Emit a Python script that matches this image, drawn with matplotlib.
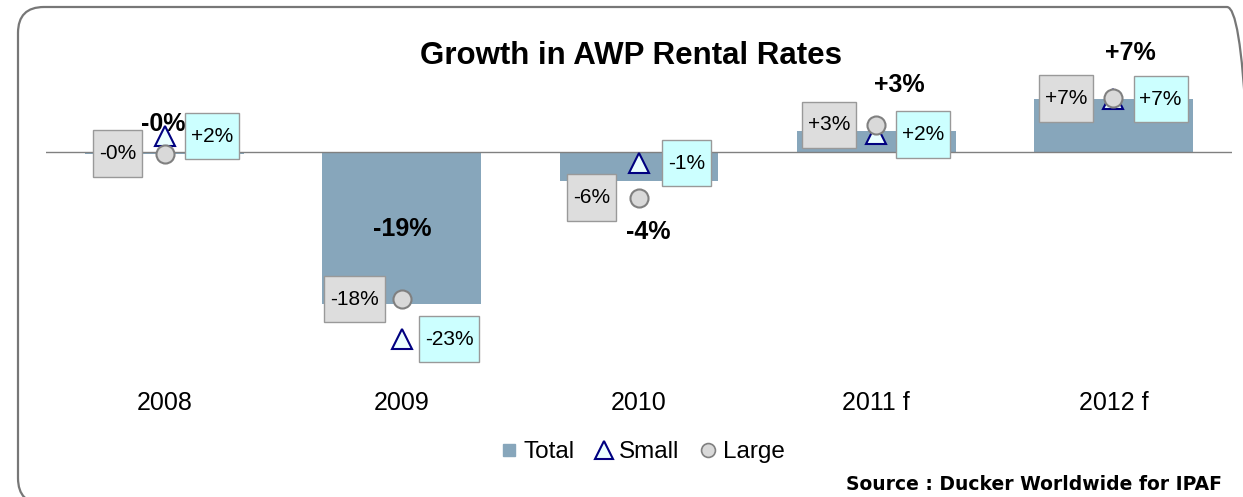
#growth in AWP rental rates - total bars with small/large company markers
import matplotlib.pyplot as plt
import numpy as np
from matplotlib.lines import Line2D
from matplotlib.patches import FancyBboxPatch
from matplotlib.path import Path
from matplotlib.transforms import IdentityTransform

plt.rcParams['font.family'] = ['Liberation Sans', 'DejaVu Sans']

years = ["2008", "2009", "2010", "2011 f", "2012 f"]
total = [-0.2, -19.0, -3.6, 2.6, 6.6]
small = [2.0, -23.4, -1.4, 2.2, 6.6]
large = [-0.2, -18.4, -5.7, 3.4, 6.7]

# offsets (points) for the bold total labels
total_offsets = [(-1, 21), (0, 54), (7, -37), (17, 33), (12, 33)]

bar_color = '#87a6bb'
small_fill = '#eaffff'
small_edge = '#000080'
large_fill = '#d9d9d9'
large_edge = '#808080'


#box that is taller than the text padding would give, like the excel data labels
def label_box(x0, y0, width, height, mutation_size):
    hp = 0.28 * mutation_size
    vp = 0.66 * mutation_size
    x0, y0 = x0 - hp, y0 - vp
    x1, y1 = x0 + width + 2 * hp, y0 + height + 2 * vp
    return Path([(x0, y0), (x1, y0), (x1, y1), (x0, y1), (x0, y0)], closed=True)


def fmt(v):
    return f"{v:+.0f}%"


fig = plt.figure(figsize=(12.43, 4.97), dpi=100)
ax = fig.add_axes([46 / 1243, 1 - 380 / 497, 1186 / 1243, 350 / 497])

x = np.arange(len(years))
ax.bar(x, total, width=0.67, color=bar_color, zorder=2)
ax.axhline(0, color='#808080', lw=1, zorder=3)

for i, v in enumerate(total):
    ax.annotate(fmt(v), (x[i], v), xytext=total_offsets[i], textcoords='offset points',
                ha='center', va='center', fontsize=18, fontweight='bold', zorder=4)

ax.plot(x, small, ls='none', marker='^', ms=15, mfc=small_fill, mec=small_edge, mew=1.5, zorder=5)
ax.plot(x, large, ls='none', marker='o', ms=13, mfc=large_fill, mec=large_edge, mew=1.5, zorder=5)

for i in range(len(years)):
    ax.annotate(fmt(large[i]), (x[i], large[i]), xytext=(-34, 0), textcoords='offset points',
                ha='center', va='center', fontsize=15, zorder=6,
                bbox=dict(boxstyle=label_box, fc='#dddddd', ec='#999999', lw=1))
    ax.annotate(fmt(small[i]), (x[i], small[i]), xytext=(34, 0), textcoords='offset points',
                ha='center', va='center', fontsize=15, zorder=6,
                bbox=dict(boxstyle=label_box, fc='#ccffff', ec='#999999', lw=1))

ax.set_xlim(-0.5, len(years) - 0.5)
ax.set_ylim(-28.5, 15.25)
ax.set_xticks(x)
ax.set_xticklabels(years, fontsize=18)
ax.tick_params(axis='x', length=0, pad=8)
ax.set_yticks([])
for s in ax.spines.values():
    s.set_visible(False)
ax.patch.set_alpha(0)

fig.text(631 / 1243, 1 - 56 / 497, "Growth in AWP Rental Rates", ha='center', va='center',
         fontsize=22.5, fontweight='bold')

handles = [
    Line2D([], [], ls='none', marker='s', ms=8, mfc=bar_color, mec=bar_color),
    Line2D([], [], ls='none', marker='^', ms=13, mfc=small_fill, mec=small_edge, mew=1.5),
    Line2D([], [], ls='none', marker='o', ms=10, mfc=large_fill, mec=large_edge, mew=1.2),
]
fig.legend(handles, ["Total", "Small", "Large"], loc='center', bbox_to_anchor=(642 / 1243, 1 - 452 / 497),
           ncol=3, frameon=False, fontsize=17.5, handlelength=0.8, handletextpad=0.2, columnspacing=0.8)

fig.text(1222 / 1243, 1 - 485 / 497, "Source : Ducker Worldwide for IPAF", ha='right', va='center',
         fontsize=13.5, fontweight='bold', family='DejaVu Sans')

# rounded frame round the whole chart, right and bottom edges run off the picture
frame = FancyBboxPatch((18, -7), 1235, 497 - 7 + 7, boxstyle="round,pad=0,rounding_size=26",
                       transform=IdentityTransform(), fc='none', ec='#777777', lw=1.6)
fig.add_artist(frame)

fig.savefig('out.png', dpi=100)
